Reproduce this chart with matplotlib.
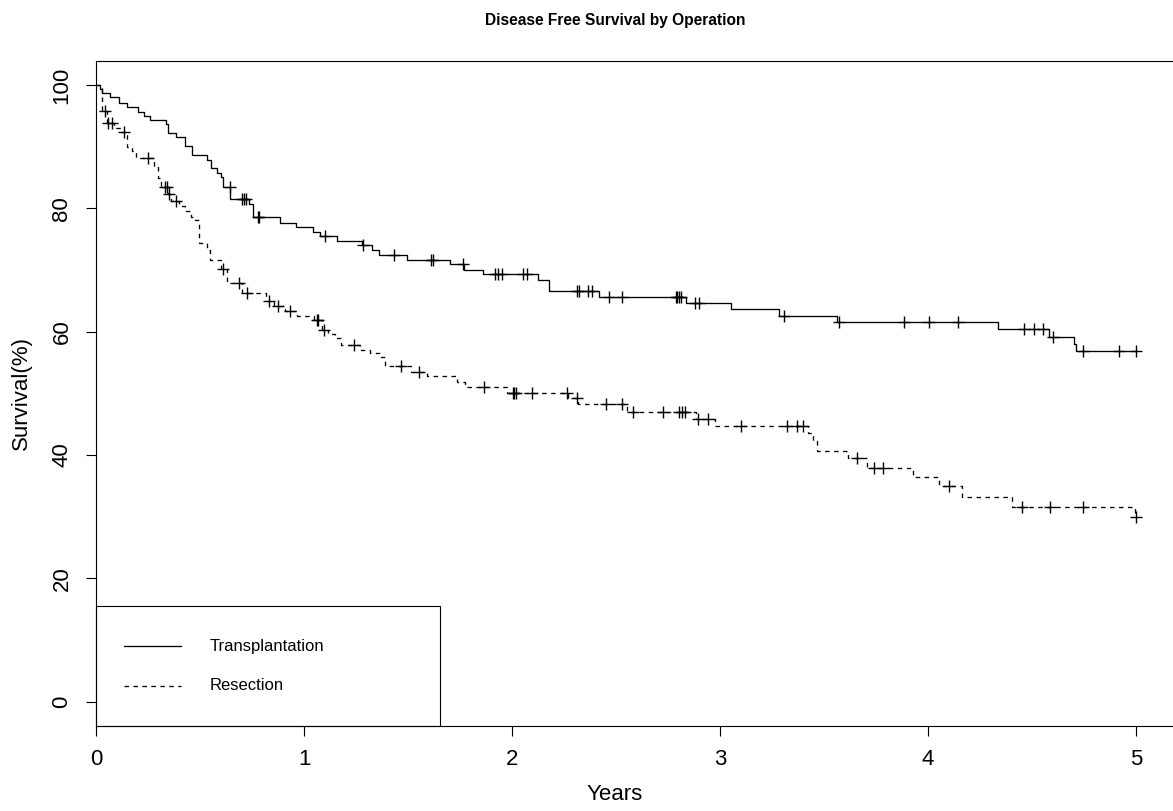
import numpy as np
import matplotlib
matplotlib.use("Agg")
import matplotlib.pyplot as plt
from matplotlib.lines import Line2D
from matplotlib.patches import Rectangle

plt.rcParams['font.family'] = ['Liberation Sans', 'DejaVu Sans']

# ---- data: Kaplan-Meier step points (time in years, survival %) ----
trans_times = [0.0, 0.019, 0.027, 0.067, 0.112, 0.151, 0.204, 0.23, 0.26, 0.337, 0.348,
               0.385, 0.428, 0.46, 0.535, 0.551, 0.58, 0.599, 0.612, 0.645, 0.735,
               0.756, 0.885, 0.962, 1.042, 1.077, 1.16, 1.277, 1.325, 1.362, 1.494,
               1.702, 1.769, 1.862, 2.127, 2.18, 2.42, 2.837, 3.053, 3.285, 3.561,
               4.338, 4.583, 4.702, 4.712]
trans_surv = [100.0, 99.3, 98.65, 98.0, 97.1, 96.5, 95.7, 95.0, 94.4, 93.7, 92.2,
              91.5, 90.1, 88.6, 87.8, 86.5, 85.8, 85.1, 83.5, 81.5, 80.7,
              78.6, 77.7, 77.0, 76.2, 75.5, 74.7, 74.1, 73.3, 72.5, 71.6,
              70.9, 70.0, 69.3, 68.4, 66.6, 65.7, 64.7, 63.6, 62.5, 61.5,
              60.4, 59.2, 58.0, 56.8]
trans_censor = [0.643, 0.70, 0.71, 0.72, 0.78, 0.785, 1.10, 1.282, 1.434, 1.612, 1.618,
                1.763, 1.918, 1.934, 1.95, 2.051, 2.074, 2.311, 2.324, 2.367, 2.383,
                2.468, 2.527, 2.788, 2.795, 2.804, 2.811, 2.88, 2.90, 3.308, 3.57,
                3.885, 4.005, 4.146, 4.462, 4.511, 4.554, 4.603, 4.744, 4.92, 5.0]

resec_times = [0.0, 0.031, 0.055, 0.087, 0.12, 0.151, 0.171, 0.192, 0.278, 0.30, 0.311,
               0.345, 0.36, 0.40, 0.43, 0.455, 0.475, 0.497, 0.532, 0.548, 0.60, 0.63,
               0.70, 0.817, 0.855, 0.91, 0.965, 1.05, 1.085, 1.117, 1.15, 1.176,
               1.269, 1.317, 1.365, 1.389, 1.513, 1.593, 1.734, 1.774, 1.974, 2.271,
               2.319, 2.551, 2.885, 2.976, 3.425, 3.445, 3.465, 3.617, 3.705, 3.93,
               4.054, 4.162, 4.402, 4.993]
resec_surv = [100.0, 95.8, 93.9, 93.1, 92.4, 90.0, 89.3, 88.2, 86.8, 84.9, 83.5,
              82.4, 81.2, 80.3, 79.5, 78.6, 78.1, 74.3, 73.2, 71.6, 70.1, 67.9,
              66.3, 64.9, 64.2, 63.4, 62.6, 61.9, 60.2, 59.6, 58.9, 57.8,
              57.0, 56.5, 55.9, 54.5, 53.5, 52.8, 51.9, 51.1, 50.1, 49.2,
              48.2, 47.0, 45.8, 44.75, 43.5, 42.2, 40.7, 39.5, 37.85, 36.4,
              34.9, 33.2, 31.6, 29.9]
resec_censor = [0.043, 0.059, 0.075, 0.135, 0.252, 0.332, 0.343, 0.351, 0.385, 0.609,
                0.686, 0.724, 0.833, 0.877, 0.933, 1.061, 1.069, 1.096, 1.24, 1.466,
                1.553, 1.867, 2.003, 2.01, 2.019, 2.094, 2.263, 2.311, 2.452, 2.527,
                2.58, 2.728, 2.805, 2.816, 2.832, 2.896, 2.944, 3.101, 3.32, 3.37,
                3.40, 3.657, 3.74, 3.785, 4.103, 4.453, 4.587, 4.744, 5.0]

group_labels = ["Transplantation", "Resection"]
x_ticks = [0, 1, 2, 3, 4, 5]
y_ticks = [0, 20, 40, 60, 80, 100]
title = "Disease Free Survival by Operation"
x_label = "Years"
y_label = "Survival(%)"

# ---- figure ----
W, H = 1173, 811
fig = plt.figure(figsize=(W / 100, H / 100), dpi=100)

def fx(px):
    return px / W

def fy(py):
    return 1 - py / H

ax_l, ax_r, ax_t, ax_b = 96, 1190, 60.7, 726
ax = fig.add_axes([fx(ax_l), fy(ax_b), (ax_r - ax_l) / W, (ax_b - ax_t) / H])
ax.set_xlim(0, (ax_r - ax_l) / 208.0)
ax.set_ylim(-3.94, 103.94)


def km_value(times, surv, t):
    idx = np.searchsorted(np.asarray(times), t, side='right') - 1
    return np.asarray(surv)[idx]


styles = ['-', (0, (3.4, 3.4))]
curves = [(trans_times, trans_surv, trans_censor), (resec_times, resec_surv, resec_censor)]
for (times, surv, cens), ls in zip(curves, styles):
    end_t = max(cens[-1], times[-1])
    tt = list(times) + [end_t]
    ss = list(surv) + [surv[-1]]
    ax.step(tt, ss, where='post', color='black', lw=0.95, linestyle=ls)
    ax.plot(cens, km_value(times, surv, cens), linestyle='none', marker='+',
            markersize=8.5, markeredgewidth=1.0, color='black')

ax.set_xticks(x_ticks)
ax.set_yticks(y_ticks)
ax.set_xticklabels([str(v) for v in x_ticks])
ax.set_yticklabels([str(v) for v in y_ticks], rotation=90, va='center')
ax.tick_params(axis='both', length=7.5, width=0.8, labelsize=16, direction='out')
ax.tick_params(axis='x', pad=9)
ax.tick_params(axis='y', pad=9.5)
for side in ['left', 'top', 'bottom', 'right']:
    ax.spines[side].set_linewidth(0.8)

# titles / labels
fig.text(fx(615), fy(20.5), title, ha='center', va='center', fontsize=11.2, fontweight='bold')
fig.text(fx(615), fy(795), x_label, ha='center', va='center', fontsize=16)
fig.text(fx(21), fy(393), y_label, ha='center', va='center', fontsize=16, rotation=90)

# legend (R style bottom-left box)
fig.patches.append(Rectangle((fx(96), fy(726)), fx(440) - fx(96), fy(606) - fy(726),
                             transform=fig.transFigure, fill=False, edgecolor='black', lw=0.8))
leg_y = [646, 686]
for lab, ls, yy in zip(group_labels, styles, leg_y):
    fig.lines.append(Line2D([fx(124), fx(181)], [fy(yy), fy(yy)], transform=fig.transFigure,
                            color='black', lw=0.95, linestyle=ls))
    fig.text(fx(210), fy(yy), lab, ha='left', va='center', fontsize=12)

fig.savefig('out.png', dpi=100)
